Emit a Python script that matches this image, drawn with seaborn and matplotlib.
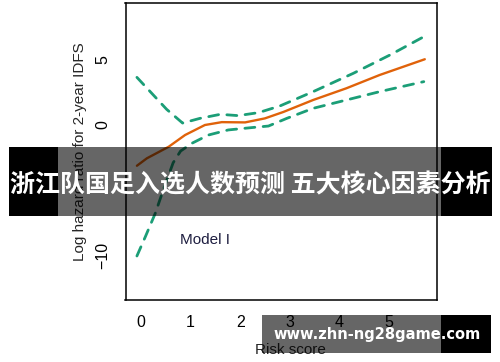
import matplotlib
matplotlib.use("Agg")
import matplotlib.pyplot as plt
from matplotlib.patches import Rectangle
import seaborn as sns
import pandas as pd

sns.set_style("white")
plt.rcParams['font.family'] = ['Liberation Sans', 'DejaVu Sans']

# Data
est_x = [-0.08, 0.12, 0.56, 0.89, 1.29, 1.63, 2.1, 2.5, 2.87, 3.47, 4.14, 4.81, 5.72]
est_y = [-3.13, -2.56, -1.67, -0.77, 0.0, 0.22, 0.2, 0.51, 1.0, 1.92, 2.82, 3.84, 5.05]

up_x = [-0.08, 0.22, 0.52, 0.84, 1.19, 1.6, 1.96, 2.37, 2.8, 3.47, 4.28, 5.02, 5.7]
up_y = [3.66, 2.43, 1.2, 0.15, 0.51, 0.82, 0.72, 0.95, 1.46, 2.56, 3.97, 5.38, 6.78]

lo_x = [-0.08, 0.09, 0.29, 0.45, 0.65, 0.8, 1.03, 1.36, 1.76, 2.23, 2.57, 2.94, 3.47, 4.14, 4.81, 5.7]
lo_y = [-10.06, -8.58, -6.78, -5.0, -2.9, -2.0, -1.4, -0.77, -0.38, -0.2, -0.08, 0.51, 1.28, 1.92, 2.56, 3.33]

x_ticks = [0, 1, 2, 3, 4, 5]
y_ticks = [-10, 0, 5]

title_text = "浙江队国足入选人数预测 五大核心因素分析"
watermark = "www.zhn-ng28game.com"

W, H = 500, 362
fig = plt.figure(figsize=(W / 100, H / 100), dpi=100)
fig.patch.set_facecolor("white")
L, R, T, B = 125.5, 436.7, 3, 300
ax = fig.add_axes([L / W, 1 - B / H, (R - L) / W, (B - T) / H])

green = "#1B9E77"
orange = "#E0620A"

sns.lineplot(x=up_x, y=up_y, ax=ax, color=green, lw=2.0, sort=False,
             dashes=False, estimator=None)
sns.lineplot(x=lo_x, y=lo_y, ax=ax, color=green, lw=2.0, sort=False,
             dashes=False, estimator=None)
sns.lineplot(x=est_x, y=est_y, ax=ax, color=orange, lw=1.7, sort=False,
             estimator=None)
for ln in ax.lines[:2]:
    ln.set_dashes((3.6, 3.0))
    ln.set_dash_capstyle("round")

ax.set_xlim(-0.31, 5.96)
ax.set_ylim(-13.44, 9.37)
ax.set_xticks(x_ticks)
ax.set_yticks(y_ticks)
ax.set_yticklabels([str(v).replace("-", "\u2212") for v in y_ticks], rotation=90, va="center")
ax.tick_params(axis="both", direction="out", length=5, width=1, color="black",
               labelsize=11.5, labelcolor="black")
ax.tick_params(axis="x", pad=6)
ax.tick_params(axis="y", pad=6)
for s in ax.spines.values():
    s.set_visible(True)
    s.set_color("black")
    s.set_linewidth(1.1)
ax.set_xlabel("")
ax.set_ylabel("")

ax.text(0.78, -8.83, "Model I", fontsize=11, color="#1e1e40", ha="left", va="center")

fig.text(290 / W, 1 - 350 / H, "Risk score", fontsize=11, ha="center", va="center")
fig.text(80 / W, 1 - 152 / H, "Log hazard ratio for 2-year IDFS", fontsize=11,
         rotation=90, ha="center", va="center")

# Banner overlay
by0, by1 = 146.7, 215.7
def rect(x0, x1, y0, y1, color, alpha):
    fig.add_artist(Rectangle((x0 / W, 1 - y1 / H), (x1 - x0) / W, (y1 - y0) / H,
                             transform=fig.transFigure, facecolor=color,
                             alpha=alpha, edgecolor="none", zorder=10))
rect(9, 58, by0, by1, "black", 1.0)
rect(58, 441, by0, by1, "black", 0.6)
rect(441, 492, by0, by1, "black", 1.0)
fig.text(250.5 / W, 1 - 185 / H, title_text, fontsize=18, fontweight="bold",
         color="white", ha="center", va="center",
         family=["Noto Sans CJK SC", "DejaVu Sans"], zorder=11)

# Watermark
wy0, wy1 = 315, 352.7
rect(262, 441, wy0, wy1, "black", 0.6)
rect(441, 491, wy0, wy1, "black", 1.0)
fig.text(377.5 / W, 1 - 335 / H, watermark, fontsize=10.5, fontweight="bold",
         color="white", ha="center", va="center", family=["DejaVu Sans"], zorder=11)

fig.savefig("out.png", dpi=100)
